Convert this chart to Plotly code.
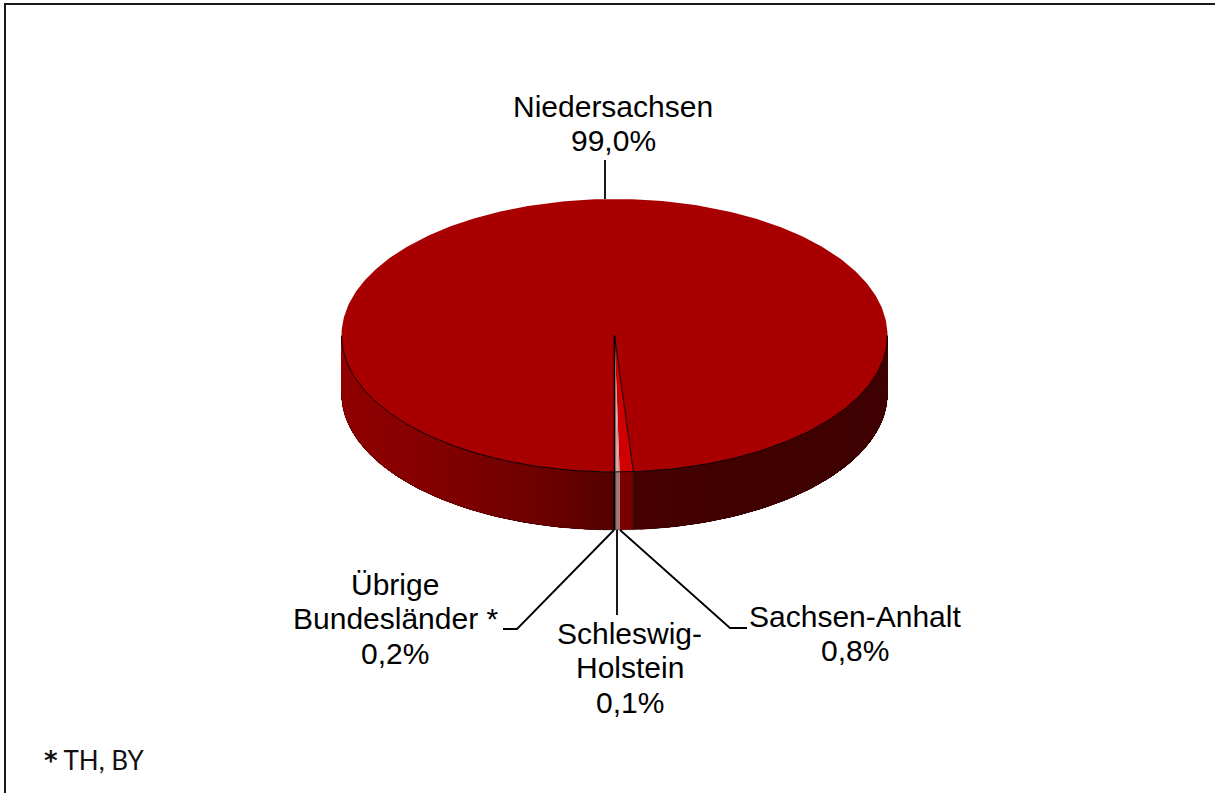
import numpy as np
import plotly.graph_objects as go

# Shares in percent, clockwise from the six o'clock position
categories = ["Niedersachsen", "Sachsen-Anhalt", "Schleswig-Holstein", "Übrige Bundesländer *"]
shares = [99.0, 0.8, 0.1, 0.2]
top_colors = ["#A80000", "#D00000", "#D09090", "#D8A0A0"]
side_colors = [None, "#7A0000", "#A07070", "#987070"]

label_lines = [
    ["Niedersachsen"],
    ["Sachsen-Anhalt"],
    ["Schleswig-", "Holstein"],
    ["Übrige", "Bundesländer *"],
]

# Projected disc geometry on a pixel-sized axis pair
CX, CY, RX, RY, DEPTH = 614.5, 335.5, 273.0, 136.5, 58.0

# Text anchor: centre x and vertical centre of the first line for each label
label_pos = [(613, 106), (855, 616), (629.5, 633), (395, 584)]
LINE_STEP = 34.7
FONT = "Liberation Sans, Arial, sans-serif"
FONT_SIZE = 30

# Leader polylines for each label
leaders = [
    ([605, 605], [160, 199]),
    ([620, 730, 747], [530, 628, 628]),
    ([617, 617], [530, 615]),
    ([614, 517, 503], [530, 629, 629]),
]


def px(theta):
    return CX + RX * np.sin(theta)


def py(theta, drop=0.0):
    return CY - RY * np.cos(theta) + drop


def side_shade(x):
    """Dark red of the rim as a function of horizontal position."""
    xs = [341, 450, 560, 600, 632, 700, 887]
    rs = [0x92, 0x80, 0x69, 0x5A, 0x48, 0x42, 0x3E]
    return f"rgb({int(np.interp(x, xs, rs))},0,0)"


fig = go.Figure()

# Slice boundaries in radians: the disc starts and closes at six o'clock
total = sum(shares)
edges = np.pi + np.cumsum([0.0] + shares) / total * 2 * np.pi


def add_rim(t0, t1, color):
    t = np.linspace(t0, t1, max(8, int(abs(t1 - t0) * 60)))
    xs = np.r_[px(t), px(t[::-1])]
    ys = np.r_[py(t), py(t[::-1], DEPTH)]
    fig.add_trace(go.Scatter(
        x=xs, y=ys, mode="lines", fill="toself", fillcolor=color,
        line=dict(width=0), hoverinfo="skip", showlegend=False,
    ))


# Rim of the big slice: each band runs to the far end and the next one paints
# over it, so no gaps open between the shaded steps
left_x = np.linspace(CX, CX - RX, 40)
for a in np.arcsin((left_x - CX) / RX)[:-1]:
    start = np.pi - a
    add_rim(start, 1.5 * np.pi, side_shade(px(start) - 3))

right_x = np.linspace(px(edges[1]), CX + RX, 40)
for a in np.arcsin((right_x - CX) / RX)[:-1]:
    add_rim(3 * np.pi - a, 2.5 * np.pi, side_shade(CX + RX * np.sin(a)))

# Rim of the small slices
for i in range(1, 4):
    add_rim(edges[i], edges[i + 1], side_colors[i])

# Outline of the rim's lower edge and the vertical slice seams
t = np.linspace(np.pi / 2, 1.5 * np.pi, 200)
fig.add_trace(go.Scatter(
    x=px(t), y=py(t, DEPTH), mode="lines",
    line=dict(color="rgba(40,0,0,0.5)", width=0.7), hoverinfo="skip", showlegend=False,
))
for edge, w in [(edges[1], 0.8), (edges[0], 1.8)]:
    fig.add_trace(go.Scatter(
        x=[px(edge), px(edge)], y=[py(edge), py(edge, DEPTH)], mode="lines",
        line=dict(color="#000000", width=w), hoverinfo="skip", showlegend=False,
    ))

# Top face sectors
for i, (share, color) in enumerate(zip(shares, top_colors)):
    t = np.linspace(edges[i], edges[i + 1], 400 if i == 0 else 6)
    fig.add_trace(go.Scatter(
        x=np.r_[CX, px(t), CX], y=np.r_[CY, py(t), CY], mode="lines",
        fill="toself", fillcolor=color, line=dict(width=0),
        name=categories[i], hoverinfo="skip", showlegend=False,
    ))

# Front edge of the top face and the two slice boundaries
t = np.linspace(np.pi / 2, 1.5 * np.pi, 200)
fig.add_trace(go.Scatter(
    x=px(t), y=py(t), mode="lines", line=dict(color="#000000", width=0.9),
    hoverinfo="skip", showlegend=False,
))
for edge, w in [(edges[1], 0.9), (edges[0], 1.7)]:
    fig.add_trace(go.Scatter(
        x=[CX, px(edge)], y=[CY, py(edge)], mode="lines",
        line=dict(color="#000000", width=w), hoverinfo="skip", showlegend=False,
    ))

# Leader lines
for xs, ys in leaders:
    fig.add_trace(go.Scatter(
        x=xs, y=ys, mode="lines", line=dict(color="#000000", width=1.8),
        hoverinfo="skip", showlegend=False,
    ))

# Labels: category lines followed by the percentage with a decimal comma
annotations = []
for lines, share, (lx, ly) in zip(label_lines, shares, label_pos):
    texts = lines + [f"{share:.1f}".replace(".", ",") + "%"]
    for k, text in enumerate(texts):
        annotations.append(dict(
            x=lx, y=ly + k * LINE_STEP, xref="x", yref="y", text=text,
            showarrow=False, xanchor="center", yanchor="middle",
            font=dict(family=FONT, size=FONT_SIZE, color="#000000"),
        ))
annotations.append(dict(
    x=42, y=760, xref="x", yref="y",
    text='<span style="font-family:DejaVu Sans;font-weight:bold">*</span> TH, BY',
    showarrow=False, xanchor="left", yanchor="middle",
    font=dict(family="Lato, Open Sans, sans-serif", size=26, color="#111111"),
))

fig.update_layout(
    width=1215, height=793, autosize=False,
    margin=dict(l=0, r=0, t=0, b=0),
    paper_bgcolor="#FFFFFF", plot_bgcolor="#FFFFFF",
    xaxis=dict(range=[0, 1215], visible=False, fixedrange=True),
    yaxis=dict(range=[793, 0], visible=False, fixedrange=True),
    annotations=annotations,
    shapes=[
        dict(type="line", xref="x", yref="y", x0=5, y0=4, x1=5, y1=793, line=dict(color="#1A1A1A", width=2)),
        dict(type="line", xref="x", yref="y", x0=4, y0=4, x1=1215, y1=4, line=dict(color="#1A1A1A", width=2)),
    ],
)

fig.write_html("out.html", config=dict(displayModeBar=False))
